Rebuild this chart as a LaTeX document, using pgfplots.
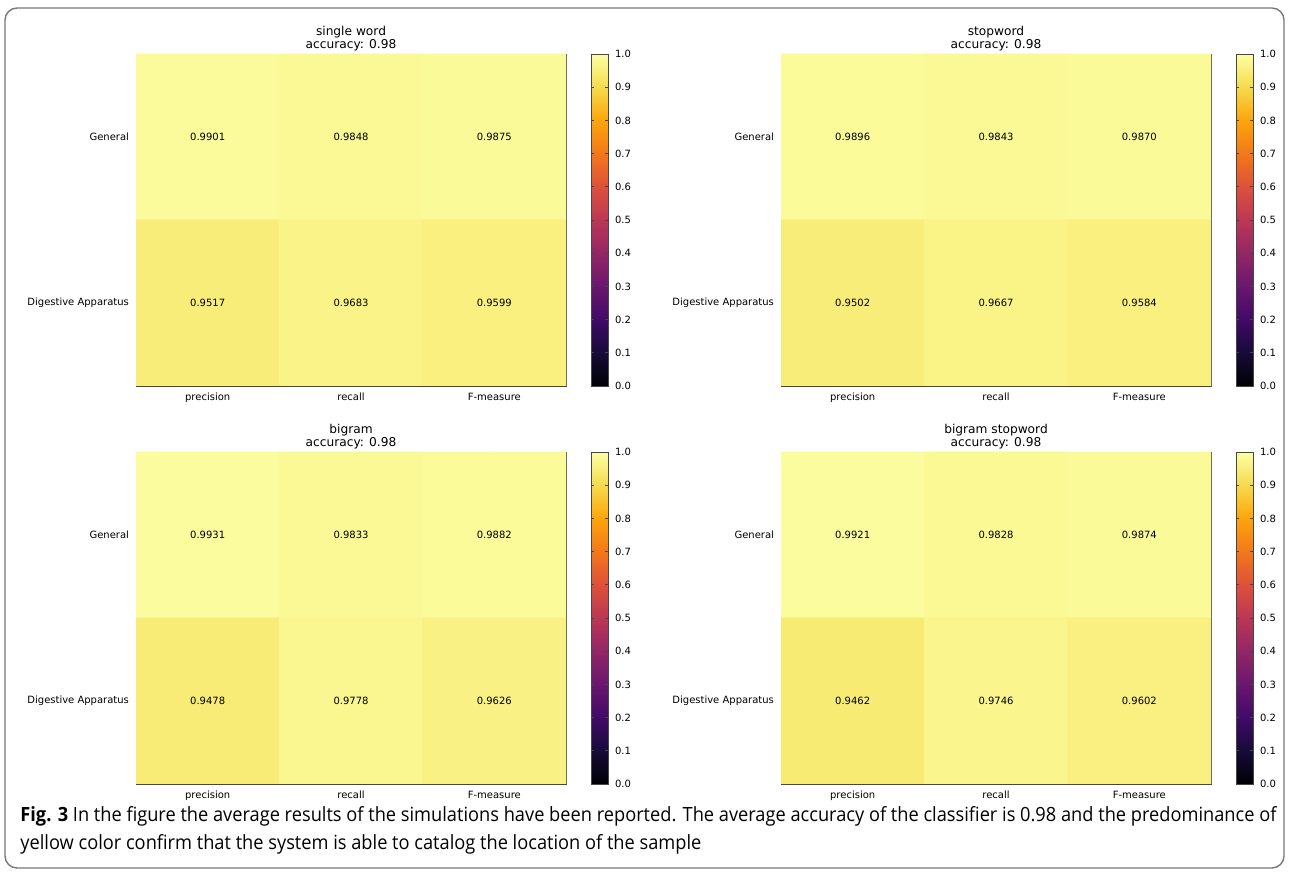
\documentclass[border=0pt]{standalone}
\usepackage{pgfplots}
\usepackage{pgfplotstable}
\pgfplotsset{compat=1.18}
\usepackage{fontspec}
\setmainfont{DejaVu Sans}
\newfontfamily\capfont[FakeStretch=0.93]{Open Sans}
\newcommand\tf{\fontsize{5}{6}\selectfont}
\newcommand\ttf{\fontsize{6.1}{6.5}\selectfont}
\definecolor{axgray}{RGB}{70,70,70}
\definecolor{framegray}{RGB}{120,120,120}

\pgfplotsset{
  /pgf/number format/assume math mode=true,
  colormap={inferno}{rgb255(0cm)=(0,0,4) rgb255(1cm)=(22,11,57) rgb255(2cm)=(66,10,104)
    rgb255(3cm)=(106,23,110) rgb255(4cm)=(147,38,103) rgb255(5cm)=(188,55,84)
    rgb255(6cm)=(221,81,58) rgb255(7cm)=(243,120,25) rgb255(8cm)=(252,165,10)
    rgb255(9cm)=(245,219,76) rgb255(10cm)=(252,255,164)},
  hm/.style={
    scale only axis, width=215pt, height=166pt,
    xmin=-0.5, xmax=2.5, ymin=-0.5, ymax=1.5, y dir=reverse,
    enlargelimits=false,
    xtick={0,1,2}, xticklabels={precision,recall,F-measure},
    ytick={0,1}, yticklabels={General,Digestive Apparatus},
    tick label style={font=\tf, text=black},
    major tick length=2pt,
    axis line style={draw=axgray},
    tick style={draw=axgray, line width=0.4pt},
    colormap name=inferno, point meta min=0, point meta max=1,
    every axis title shift=0pt,
    title style={font=\ttf, align=center, anchor=south, at={(0.5,1)}, inner sep=0pt, yshift=1.5pt},
    colorbar,
    colorbar shift/.style={xshift=12.5pt},
    colorbar style={
      at={(parent axis.north east)}, anchor=north west,
      width=8.5pt,
      ytick={0,0.1,0.2,0.3,0.4,0.5,0.6,0.7,0.8,0.9,1},
      yticklabel style={font=\tf, /pgf/number format/.cd, fixed, fixed zerofill, precision=1},
      major tick length=1.5pt,
      axis line style={draw=axgray},
      tick style={draw=axgray, line width=0.4pt},
    },
  },
  cellnum/.style={draw=none, nodes near coords, point meta=explicit symbolic,
    nodes near coords align=center,
    every node near coord/.append style={font=\tf, anchor=center, text=black, inner sep=0pt}},
}

\pgfplotstableread{
x y v
0 0 0.9901
1 0 0.9848
2 0 0.9875
0 1 0.9517
1 1 0.9683
2 1 0.9599
}\tabA
\pgfplotstableread{
x y v
0 0 0.9896
1 0 0.9843
2 0 0.9870
0 1 0.9502
1 1 0.9667
2 1 0.9584
}\tabB
\pgfplotstableread{
x y v
0 0 0.9931
1 0 0.9833
2 0 0.9882
0 1 0.9478
1 1 0.9778
2 1 0.9626
}\tabC
\pgfplotstableread{
x y v
0 0 0.9921
1 0 0.9828
2 0 0.9874
0 1 0.9462
1 1 0.9746
2 1 0.9602
}\tabD

\begin{document}
\begin{tikzpicture}
\useasboundingbox (0,0) rectangle (644.5pt,436pt);
\draw[framegray, line width=0.7pt, rounded corners=6pt] (2.5pt,2pt) rectangle (642pt,432pt);

\begin{axis}[hm, at={(68pt,409pt)}, anchor=north west, title={single word\\accuracy: 0.98}]
\addplot[matrix plot*, mesh/cols=3, point meta=explicit] table[x=x,y=y,meta=v]{\tabA};
\addplot[cellnum] table[x=x,y=y,meta=v]{\tabA};
\end{axis}

\begin{axis}[hm, at={(390.5pt,409pt)}, anchor=north west, title={stopword\\accuracy: 0.98}]
\addplot[matrix plot*, mesh/cols=3, point meta=explicit] table[x=x,y=y,meta=v]{\tabB};
\addplot[cellnum] table[x=x,y=y,meta=v]{\tabB};
\end{axis}

\begin{axis}[hm, at={(68pt,210pt)}, anchor=north west, title={bigram\\accuracy: 0.98}]
\addplot[matrix plot*, mesh/cols=3, point meta=explicit] table[x=x,y=y,meta=v]{\tabC};
\addplot[cellnum] table[x=x,y=y,meta=v]{\tabC};
\end{axis}

\begin{axis}[hm, at={(390.5pt,210pt)}, anchor=north west, title={bigram stopword\\accuracy: 0.98}]
\addplot[matrix plot*, mesh/cols=3, point meta=explicit] table[x=x,y=y,meta=v]{\tabD};
\addplot[cellnum] table[x=x,y=y,meta=v]{\tabD};
\end{axis}

\node[anchor=west, inner sep=0pt, font=\capfont\fontsize{9.8}{11}\selectfont] at (10pt,28pt)
  {\textbf{Fig. 3} In the figure the average results of the simulations have been reported. The average accuracy of the classifier is 0.98 and the predominance of};
\node[anchor=west, inner sep=0pt, font=\capfont\fontsize{9.8}{11}\selectfont] at (10pt,14pt)
  {yellow color confirm that the system is able to catalog the location of the sample};
\end{tikzpicture}
\end{document}
